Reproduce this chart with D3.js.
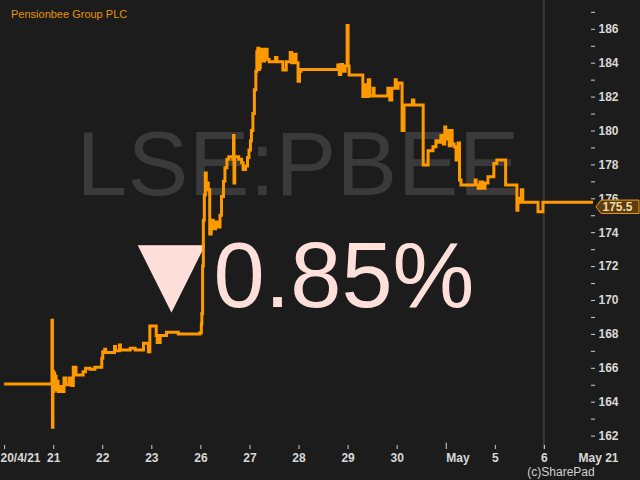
<!DOCTYPE html>
<html><head><meta charset="utf-8">
<script src="https://cdn.jsdelivr.net/npm/d3@7"></script>
<style>html,body{margin:0;padding:0;background:#1c1c1c;}svg{display:block;}</style>
</head><body>
<svg id="c" width="640" height="480"></svg>
<script>
const title = "Pensionbee Group PLC";
const watermark = "LSE:PBEE";
const changeText = "0.85%";
const lastPrice = 175.5;
const dayLabels = ["20/4/21","21","22","23","26","27","28","29","30","May","5","6"];
const monthLabel = "May 21";
const yTicks = d3.range(162, 188);
// time in trading-day units (0 = 20/4/21), price in pence
const seriesT = [0,0.975,0.985,0.995,1.005,1.015,1.03,1.045,1.06,1.08,1.10,1.14,1.17,1.22,1.26,1.33,1.38,1.41,1.465,1.61,1.66,1.75,1.85,1.99,2.01,2.05,2.07,2.25,2.27,2.35,2.37,2.57,2.67,2.84,2.94,2.97,3.10,3.12,3.18,3.31,3.55,3.99,
4.02,4.03,4.045,4.06,4.08,4.10,4.12,4.16,4.19,4.22,4.26,4.31,4.36,4.40,4.43,4.47,4.50,4.54,4.58,4.66,4.675,4.685,4.70,4.78,4.84,4.87,4.92,4.96,4.99,
5.02,5.04,5.07,5.10,5.13,5.15,5.17,5.19,5.20,5.21,5.22,5.24,5.27,5.31,5.36,5.40,5.53,5.56,5.68,5.75,5.83,5.86,5.90,5.95,5.99,6.02,6.05,
6.80,6.83,6.86,6.90,6.95,6.99,7.01,7.03,7.31,7.34,7.37,7.42,7.45,7.52,7.54,7.82,7.86,7.90,7.97,7.99,
8.03,8.11,8.15,8.32,8.35,8.54,8.64,8.74,8.80,8.86,8.90,8.95,8.98,9.00,9.03,9.07,9.10,9.13,9.17,9.21,9.25,9.28,9.31,
9.60,9.62,9.66,9.70,9.75,9.80,9.86,9.98,10.04,10.22,10.45,10.47,10.49,10.54,10.57,10.88,10.98,12.0];
const seriesP = [165.04,168.8,162.5,165.8,164.6,165.7,164.8,165.5,164.7,165.2,164.6,164.9,164.6,165.4,165.0,165.4,164.95,166.03,165.57,165.77,165.97,165.91,166.03,166.56,166.95,167.1,166.9,167.25,167.0,167.35,167.05,167.15,167.05,167.45,166.95,168.47,167.9,167.5,167.9,168.1,168.0,168.07,
168.6,169.2,172.0,174.7,176.2,177.5,176.9,176.5,173.9,174.7,174.2,174.6,174.3,175.0,176.1,177.0,177.8,178.3,178.45,178.3,179.7,176.9,178.45,178.3,178.1,177.7,177.9,178.4,178.85,
179.4,180.0,181.0,182.4,183.5,184.65,184.85,183.6,184.7,183.7,184.6,184.8,184.1,184.8,184.2,184.06,184.3,184.06,183.57,184.06,184.6,184.0,184.5,184.0,182.9,183.5,183.6,
183.86,183.3,183.9,183.5,183.8,186.2,183.8,183.27,182.0,182.7,182.0,183.0,182.04,182.5,182.04,182.5,181.8,182.5,183.0,182.5,
182.8,180.0,181.5,181.8,181.5,177.96,178.8,179.04,179.4,179.3,179.7,179.2,180.2,179.5,180.0,179.1,180.0,179.2,179.04,178.26,179.26,177.08,176.78,
177.08,176.78,176.6,176.96,176.6,176.9,177.27,178.06,178.26,176.78,175.3,176.0,175.76,176.5,175.76,175.2,175.76,175.76];

const svg = d3.select("#c");
const font = "'Liberation Sans', Arial, sans-serif";
const x = d3.scaleLinear().domain([0, 11]).range([4.1, 543.9]);
const y = d3.scaleLinear().domain([162, 186]).range([435.6, 28.8]);

svg.append("rect").attr("width", 640).attr("height", 480).attr("fill", "#1c1c1c");

// watermark
svg.append("text").attr("x", 76.5).attr("y", 195)
  .attr("textLength", 443).attr("lengthAdjust", "spacing")
  .attr("font-family", font).attr("font-size", 91).attr("fill", "#3a3a3a")
  .text(watermark);

// session line
svg.append("line").attr("x1", x(11)).attr("x2", x(11)).attr("y1", 0).attr("y2", 449)
  .attr("stroke", "#3a3a2d").attr("stroke-width", 2);

// change text (one text element)
const ct = svg.append("text").attr("x", 114.5).attr("y", 311).attr("font-family", font).attr("fill", "#ffdfd9");
ct.append("tspan").attr("font-size", 115).text("\u25BC");
ct.append("tspan").attr("x", 213.5).attr("y", 306.5).attr("font-size", 92).text(changeText);

// title
svg.append("text").attr("x", 11).attr("y", 18).attr("font-family", font).attr("font-size", 11)
  .attr("fill", "#e39400").text(title);

// y axis
const ya = svg.append("g").attr("transform", "translate(591,0)")
  .call(d3.axisRight(y).tickValues(yTicks).tickSize(4).tickPadding(3.5)
    .tickFormat(d => d % 2 === 0 ? d : ""));
ya.select(".domain").remove();
ya.selectAll("line").attr("stroke", "#d0d0d0");
ya.selectAll("text").attr("fill", "#d8d8d8").attr("font-family", font).attr("font-size", 12).attr("font-weight", "bold");

// x axis
const xa = svg.append("g").attr("transform", "translate(0,445)")
  .call(d3.axisBottom(x).tickValues(d3.range(0, 12)).tickSize(4).tickPadding(4.5)
    .tickFormat((d, i) => dayLabels[i]));
xa.select(".domain").remove();
xa.selectAll("line").attr("stroke", "#d0d0d0");
xa.selectAll(".tick").filter((d, i) => i === 9).select("line").attr("y1", -2.5);
xa.selectAll("text").attr("fill", "#d8d8d8").attr("font-family", font).attr("font-size", 12).attr("font-weight", "bold");
xa.selectAll(".tick").filter((d, i) => i === 0).select("text").attr("text-anchor", "start").attr("x", -x(0));
xa.selectAll(".tick").filter((d, i) => i === 9).select("text").attr("text-anchor", "start").attr("x", 0);

svg.append("text").attr("x", 598.5).attr("y", 462).attr("text-anchor", "middle")
  .attr("fill", "#d8d8d8").attr("font-family", font).attr("font-size", 12).attr("font-weight", "bold").text(monthLabel);
svg.append("text").attr("x", 561).attr("y", 476).attr("text-anchor", "middle")
  .attr("fill", "#d0d0d0").attr("font-family", font).attr("font-size", 12).text("(c)SharePad");

// price line
svg.append("clipPath").attr("id", "pc").append("rect").attr("x", 0).attr("y", 0).attr("width", x(12)).attr("height", 450);
const pts = seriesT.map((t, i) => [t, seriesP[i]]);
svg.append("path").attr("clip-path", "url(#pc)").datum(pts)
  .attr("d", d3.line().x(d => x(d[0])).y(d => y(d[1])).curve(d3.curveStepAfter))
  .attr("fill", "none").attr("stroke", "#ff9900").attr("stroke-width", 3).attr("stroke-linejoin", "miter");

// last price box
const py = y(lastPrice);
svg.append("path")
  .attr("d", `M596,${py} L601,${py - 6.7} L639,${py - 6.7} L639,${py + 6.7} L601,${py + 6.7} Z`)
  .attr("fill", "#5c3d10").attr("stroke", "#e89a1a").attr("stroke-width", 1);
svg.append("text").attr("x", 602.5).attr("y", py + 4.3).attr("fill", "#f3d9a8")
  .attr("font-family", font).attr("font-size", 12).attr("font-weight", "bold").text(lastPrice);
</script>
</body></html>
